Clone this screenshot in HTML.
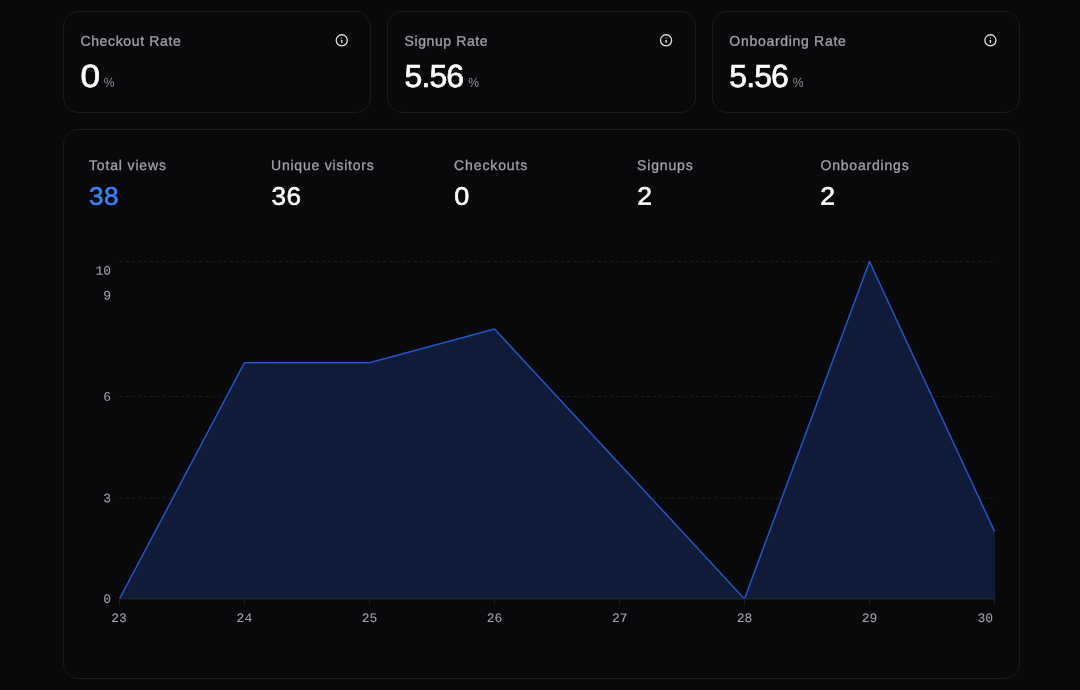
<!DOCTYPE html>
<html lang="en">
<head>
<meta charset="utf-8">
<meta name="viewport" content="width=1080">
<title>Analytics overview</title>
<style>
*{box-sizing:border-box;margin:0;padding:0}
html,body{width:1080px;height:690px;overflow:hidden;background:#09090b}
body{font-family:"Liberation Sans",Arial,sans-serif;color:#fff;text-rendering:geometricPrecision}
main{position:relative;width:1080px;height:690px;overflow:hidden}
ul{list-style:none}
.card{position:absolute;border:1px solid #1c1c1f;border-radius:15px;background:#09090b}
.x{position:absolute;left:0;top:0;display:block;white-space:nowrap;line-height:1;font-weight:400;transform-origin:0 0.8465em}
.t{color:#a1a1aa;-webkit-text-stroke:0.3px #a1a1aa}
.v{color:#fff;-webkit-text-stroke:0.7px #fff}
.s{color:#fff;-webkit-text-stroke:0.6px #fff}
.s.b{color:#3b82f6;-webkit-text-stroke-color:#3b82f6}
.p{color:#8e8e96}
.info{position:absolute;width:20px;height:20px;border:0;background:none;cursor:pointer}
.info svg{display:block}
.chart{position:absolute;left:-64px;top:-130px;width:1080px;height:690px}
.chart svg{display:block;width:1080px;height:690px}
.chart text{font-family:"Liberation Mono","DejaVu Sans Mono",monospace;font-size:13px;fill:#a1a1aa;stroke:#a1a1aa;stroke-width:0.05px}
</style>
</head>
<body>
<main>
<section class="rates" aria-label="Conversion rates">
  <article class="card rate" style="left:63px;top:11px;width:308px;height:102px">
    <h3 id="T1" class="x t" style="font-size:14px;letter-spacing:0.65px;transform:translate(16.40px,21.70px) rotate(0.03deg) scale(1,1)">Checkout Rate</h3>
    <button class="info" type="button" aria-label="About Checkout Rate" style="left:268px;top:18px"><svg viewBox="0 0 20 20" width="20" height="20" aria-hidden="true"><g transform="translate(9.75 10.30) scale(0.555)" fill="none" stroke="#e4e4e7" stroke-width="2.3" stroke-linecap="round" stroke-linejoin="round"><circle cx="0" cy="0" r="10"/><path d="M0 4v-4"/><path d="M0 -4h.01"/></g></svg></button>
    <p id="V1" class="x v" style="font-size:32px;letter-spacing:0px;transform:translate(16.50px,48.03px) rotate(0.03deg) scale(1.1,1.0)">0</p>
    <span id="P1" class="x p" style="font-size:13.5px;letter-spacing:0px;transform:translate(39.80px,63.65px) rotate(0.03deg) scale(0.9,1)">%</span>
  </article>
  <article class="card rate" style="left:387px;top:11px;width:309px;height:102px">
    <h3 id="T2" class="x t" style="font-size:14px;letter-spacing:0.6px;transform:translate(16.53px,21.70px) rotate(0.03deg) scale(1,1)">Signup Rate</h3>
    <button class="info" type="button" aria-label="About Signup Rate" style="left:268px;top:18px"><svg viewBox="0 0 20 20" width="20" height="20" aria-hidden="true"><g transform="translate(10.08 10.30) scale(0.555)" fill="none" stroke="#e4e4e7" stroke-width="2.3" stroke-linecap="round" stroke-linejoin="round"><circle cx="0" cy="0" r="10"/><path d="M0 4v-4"/><path d="M0 -4h.01"/></g></svg></button>
    <p id="V2" class="x v" style="font-size:32px;letter-spacing:-0.9px;transform:translate(16.53px,48.03px) rotate(0.03deg) scale(1.0,1.0)">5.56</p>
    <span id="P2" class="x p" style="font-size:13.5px;letter-spacing:0px;transform:translate(80.30px,63.65px) rotate(0.03deg) scale(0.9,1)">%</span>
  </article>
  <article class="card rate" style="left:712px;top:11px;width:308px;height:102px">
    <h3 id="T3" class="x t" style="font-size:14px;letter-spacing:0.7px;transform:translate(16.37px,21.70px) rotate(0.03deg) scale(1,1)">Onboarding Rate</h3>
    <button class="info" type="button" aria-label="About Onboarding Rate" style="left:267px;top:18px"><svg viewBox="0 0 20 20" width="20" height="20" aria-hidden="true"><g transform="translate(10.41 10.30) scale(0.555)" fill="none" stroke="#e4e4e7" stroke-width="2.3" stroke-linecap="round" stroke-linejoin="round"><circle cx="0" cy="0" r="10"/><path d="M0 4v-4"/><path d="M0 -4h.01"/></g></svg></button>
    <p id="V3" class="x v" style="font-size:32px;letter-spacing:-0.9px;transform:translate(16.27px,48.03px) rotate(0.03deg) scale(1.0,1.0)">5.56</p>
    <span id="P3" class="x p" style="font-size:13.5px;letter-spacing:0px;transform:translate(79.80px,63.65px) rotate(0.03deg) scale(0.9,1)">%</span>
  </article>
</section>

<section class="card traffic" aria-label="Traffic" style="left:63px;top:129px;width:957px;height:550px">
    <ul class="stats">
      <li><span id="L1" class="x t" style="font-size:14px;letter-spacing:0.85px;transform:translate(25.00px,27.91px) rotate(0.03deg) scale(1,1)">Total views</span><strong id="S1" class="x s b" style="font-size:25.3px;letter-spacing:0.3px;transform:translate(25.10px,54.80px) rotate(0.03deg) scale(1.03,1)">38</strong></li>
      <li><span id="L2" class="x t" style="font-size:14px;letter-spacing:0.78px;transform:translate(207.00px,27.91px) rotate(0.03deg) scale(1,1)">Unique visitors</span><strong id="S2" class="x s" style="font-size:25.3px;letter-spacing:0.3px;transform:translate(207.60px,54.80px) rotate(0.03deg) scale(1.03,1)">36</strong></li>
      <li><span id="L3" class="x t" style="font-size:14px;letter-spacing:0.9px;transform:translate(390.00px,27.91px) rotate(0.03deg) scale(1,1)">Checkouts</span><strong id="S3" class="x s" style="font-size:25.3px;letter-spacing:0px;transform:translate(390.20px,54.80px) rotate(0.03deg) scale(1.07,1)">0</strong></li>
      <li><span id="L4" class="x t" style="font-size:14px;letter-spacing:0.85px;transform:translate(573.00px,27.91px) rotate(0.03deg) scale(1,1)">Signups</span><strong id="S4" class="x s" style="font-size:25.3px;letter-spacing:0px;transform:translate(573.20px,54.80px) rotate(0.03deg) scale(1.05,1)">2</strong></li>
      <li><span id="L5" class="x t" style="font-size:14px;letter-spacing:0.8px;transform:translate(756.50px,27.91px) rotate(0.03deg) scale(1,1)">Onboardings</span><strong id="S5" class="x s" style="font-size:25.3px;letter-spacing:0px;transform:translate(756.20px,54.80px) rotate(0.03deg) scale(1.05,1)">2</strong></li>
    </ul>
    <figure class="chart">
      <svg viewBox="0 0 1080 690" role="img" aria-label="Total views per day">
        <g class="grid" stroke="#1f1f20" stroke-width="1" stroke-dasharray="3.07 3.063" fill="none">
          <line x1="119.5" y1="261.50" x2="994.5" y2="261.50"/>
          <line x1="119.5" y1="396.46" x2="994.5" y2="396.46"/>
          <line x1="119.5" y1="498.03" x2="994.5" y2="498.03"/>
        </g>
        <path class="area" d="M119.50 598.90 L244.50 362.72 L369.50 362.72 L494.50 328.98 L619.50 463.94 L744.50 598.90 L869.50 261.50 L994.50 531.42 L995.00 531.42 L995.00 598.90 L119.50 598.90 Z" fill="#101b39"/>
        <clipPath id="plot"><rect x="118.5" y="261.00" width="877" height="337.90"/></clipPath>
        <g clip-path="url(#plot)">
          <path class="line" d="M119.50 598.90 L244.50 362.72 L369.50 362.72 L494.50 328.98 L619.50 463.94 L744.50 598.90 L869.50 261.50 L994.50 531.42" fill="none" stroke="#2356c6" stroke-width="1.5" stroke-linejoin="round"/>
        </g>
        <line class="axis" x1="119.0" y1="598.9" x2="995.0" y2="598.9" stroke="#2a2a2c" stroke-width="1"/>
        <g class="ticks" stroke="#1d1d1f" stroke-width="1">
          <line x1="119.5" y1="599.4" x2="119.5" y2="605.4"/><line x1="244.5" y1="599.4" x2="244.5" y2="605.4"/><line x1="369.5" y1="599.4" x2="369.5" y2="605.4"/><line x1="494.5" y1="599.4" x2="494.5" y2="605.4"/><line x1="619.5" y1="599.4" x2="619.5" y2="605.4"/><line x1="744.5" y1="599.4" x2="744.5" y2="605.4"/><line x1="869.5" y1="599.4" x2="869.5" y2="605.4"/><line x1="994.5" y1="599.4" x2="994.5" y2="605.4"/>
        </g>
        <g class="y" text-anchor="end">
          <text transform="translate(111.10 274.80) rotate(0.03) scale(1.0 1)">10</text>
          <text transform="translate(111.10 299.44) rotate(0.03) scale(1.0 1)">9</text>
          <text transform="translate(111.10 400.66) rotate(0.03) scale(1.0 1)">6</text>
          <text transform="translate(111.10 502.18) rotate(0.03) scale(1.0 1)">3</text>
          <text transform="translate(111.10 603.10) rotate(0.03) scale(1.0 1)">0</text>
        </g>
        <g class="xl" text-anchor="middle">
          <text transform="translate(119.10 622.10) rotate(0.03) scale(1.0 1)">23</text><text transform="translate(244.40 622.10) rotate(0.03) scale(1.0 1)">24</text><text transform="translate(369.50 622.10) rotate(0.03) scale(1.0 1)">25</text><text transform="translate(494.50 622.10) rotate(0.03) scale(1.0 1)">26</text><text transform="translate(619.80 622.10) rotate(0.03) scale(1.0 1)">27</text><text transform="translate(744.60 622.10) rotate(0.03) scale(1.0 1)">28</text><text transform="translate(869.60 622.10) rotate(0.03) scale(1.0 1)">29</text>
          <text transform="translate(985.30 622.10) rotate(0.03) scale(1.0 1)">30</text>
        </g>
      </svg>
    </figure>
</section>
</main>
</body>
</html>
